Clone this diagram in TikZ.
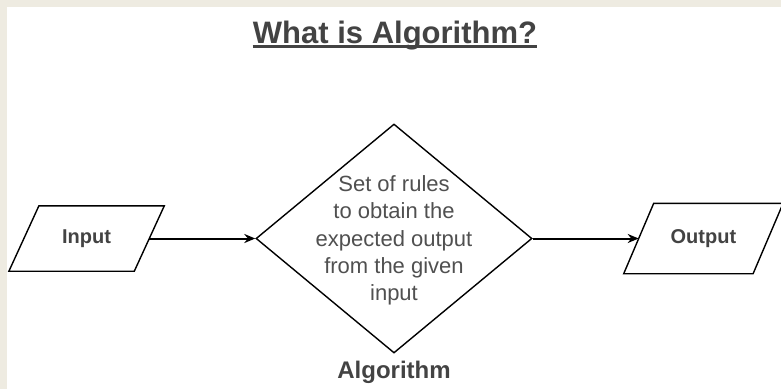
\documentclass[tikz,border=0pt]{standalone}
\usepackage{fontspec}
\setmainfont{Liberation Sans}
\usetikzlibrary{positioning}
\usetikzlibrary{shapes.geometric}
\usetikzlibrary{arrows.meta}
\definecolor{pagebg}{HTML}{EEEBE1}
\definecolor{inkgray}{HTML}{434343}
\definecolor{softgray}{HTML}{505050}
\tikzstyle{io} = [rectangle, inner sep=0pt, minimum width=125pt, font=\fontsize{20}{20}\selectfont\bfseries, text=inkgray]
\tikzstyle{frame} = [draw=black, line width=1.4pt]
\tikzstyle{decision} = [diamond, draw=black, line width=1.4pt, inner sep=0pt, minimum width=276pt, minimum height=229pt]
\tikzstyle{rules} = [align=center, text=softgray, inner sep=0pt, font=\fontsize{22}{27.3}\selectfont]
\tikzstyle{heading} = [inner sep=0pt, text=inkgray, font=\fontsize{31}{31}\selectfont\bfseries]
\tikzstyle{caption} = [inner sep=0pt, text=inkgray, font=\fontsize{24}{24}\selectfont\bfseries]
\tikzstyle{flow} = [-{Stealth[length=11pt,width=9pt]}, line width=2pt]

\begin{document}
\begin{tikzpicture}[x=1pt, y=-1pt, node distance=106pt]
% Frame
\fill[pagebg] (0,0) rectangle (781,389);
\fill[white] (7,7) rectangle (781,389);
\useasboundingbox (0,0) rectangle (781,389);

% Define nodes
\node[heading, anchor=base]          (head) at (395,43) {What is Algorithm?};
\node[decision]                      (algo) at (394,238.5) {};
\node[rules]                         (rules) at ([yshift=-2pt]algo.center) {Set of rules\\to obtain the\\expected output\\from the given\\input};
\node[caption, below=7pt of algo]    (algoname) {Algorithm};
\node[io, left=of algo, minimum height=65pt]                      (input) {Input};
\node[io, right=of algo, minimum width=129pt, minimum height=70pt] (output) {Output};

% slanted boxes round input and output
\foreach \n in {input,output}
  \draw[frame] ([xshift=15pt]\n.north west) -- ([xshift=15pt]\n.north east)
    -- ([xshift=-15pt]\n.south east) -- ([xshift=-15pt]\n.south west) -- cycle;

% Edges
\draw[flow] (input.east) -- (algo.west);
\draw[flow] (algo.east) -- (output.west);
\draw[line width=2.2pt, inkgray] ([yshift=-3.5pt]head.base west) -- ([yshift=-3.5pt]head.base east);
\end{tikzpicture}
\end{document}
